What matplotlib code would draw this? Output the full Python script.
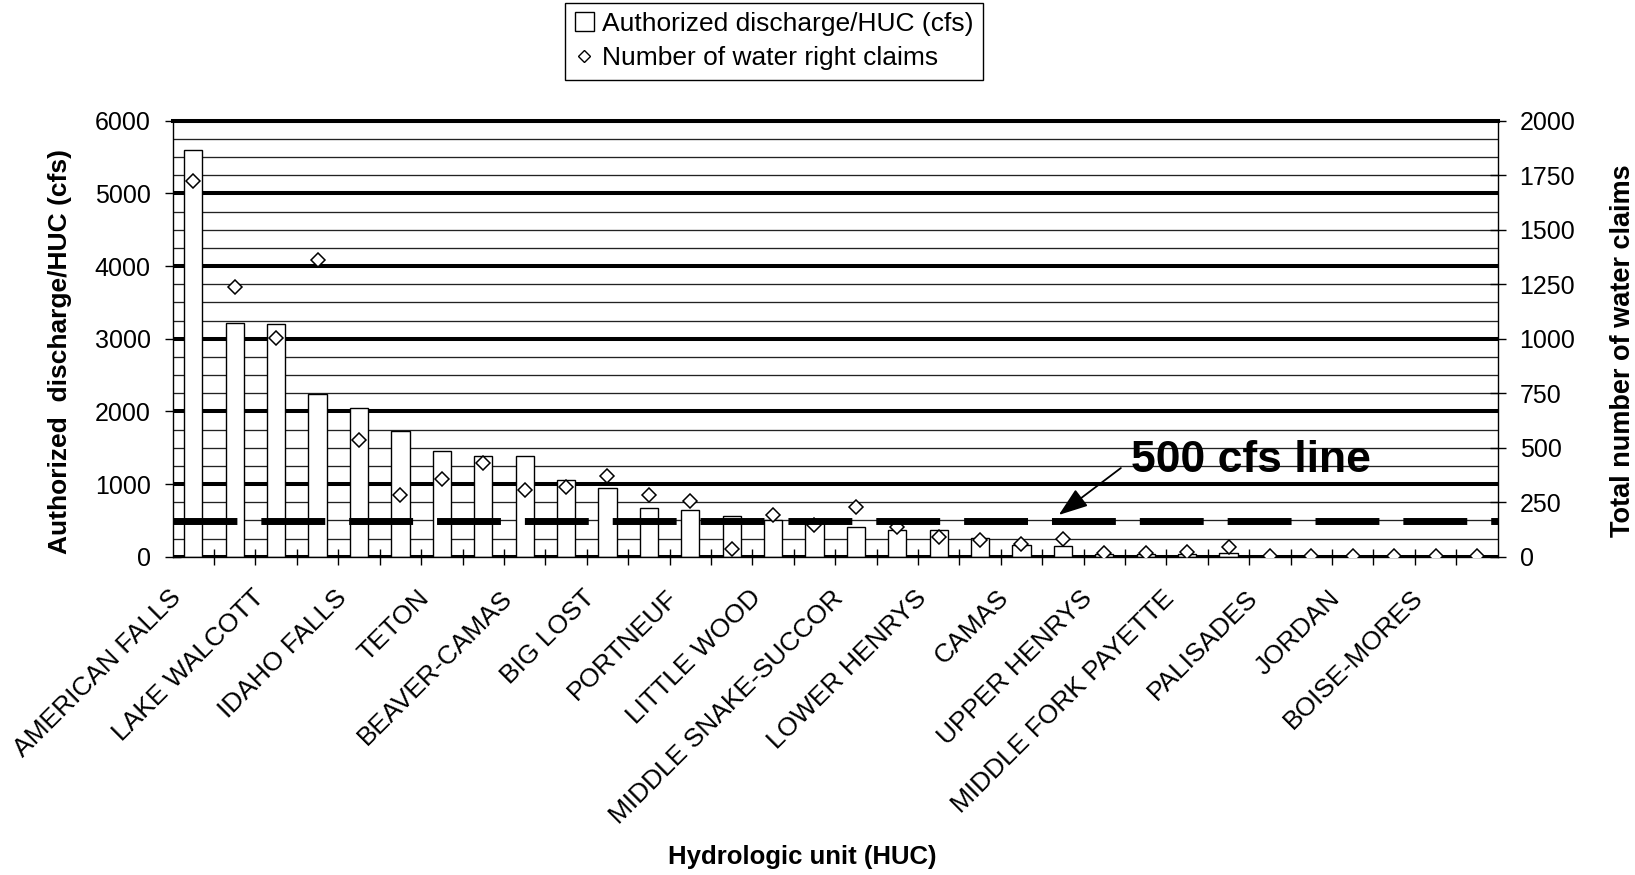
import numpy as np
import matplotlib
matplotlib.use("Agg")
import matplotlib.pyplot as plt
from matplotlib.patches import Patch
from matplotlib.lines import Line2D

plt.rcParams['font.family'] = ['Liberation Sans', 'DejaVu Sans']

# Hydrologic units (only every other one is labelled on the axis)
huc_labels = ['AMERICAN FALLS', '', 'LAKE WALCOTT', '', 'IDAHO FALLS', '', 'TETON', '',
              'BEAVER-CAMAS', '', 'BIG LOST', '', 'PORTNEUF', '', 'LITTLE WOOD', '',
              'MIDDLE SNAKE-SUCCOR', '', 'LOWER HENRYS', '', 'CAMAS', '', 'UPPER HENRYS', '',
              'MIDDLE FORK PAYETTE', '', 'PALISADES', '', 'JORDAN', '', 'BOISE-MORES', '']

# Authorized discharge per HUC (cfs), left axis
discharge_cfs = [5600, 3220, 3200, 2240, 2050, 1730, 1455, 1390, 1385, 1050,
                 940, 665, 638, 555, 510, 480, 408, 362, 362, 252,
                 165, 150, 40, 40, 40, 45, 12, 3, 2, 1, 1, 1]

# Number of water right claims, right axis
claims = [1723, 1238, 1005, 1361, 534, 283, 356, 428, 306, 321,
          370, 283, 257, 34, 193, 145, 228, 138, 92, 76,
          57, 80, 15, 18, 23, 46, 5, 3, 2, 2, 1, 1]

threshold_cfs = 485  # drawn "500 cfs line"

x = np.arange(len(huc_labels))
label_shift = 0.39  # rotated labels sit a bit left of the bar centres

fig = plt.figure(figsize=(16.35, 8.75), dpi=100)
ax = fig.add_axes([0.1056, 0.3638, 0.8104, 0.4982])
ax2 = ax.twinx()

# grid: thin every 250 cfs, thick every 1000 cfs
ax.set_axisbelow(True)
ax.set_ylim(0, 6000)
ax.set_yticks(np.arange(0, 6001, 1000))
ax.set_yticks(np.arange(0, 6001, 250), minor=True)
ax.grid(which='major', axis='y', color='black', linewidth=2.9)
ax.grid(which='minor', axis='y', color='#222222', linewidth=0.95)
ax.grid(False, axis='x', which='both')

ax.bar(x, discharge_cfs, width=0.44, color='white', edgecolor='black', linewidth=1.0, zorder=2)

ax.set_xlim(-0.5, len(huc_labels) - 0.5)
ax.set_xticks(x - label_shift)
ax.set_xticks(np.arange(0.5, len(huc_labels) - 1, 1), minor=True)
ax.set_xticklabels(huc_labels, rotation=45, ha='right', va='center', rotation_mode='anchor', fontsize=19)
ax.tick_params(axis='x', which='major', length=0, pad=27)
ax.tick_params(axis='x', which='minor', direction='inout', length=11.5, width=1)
ax.tick_params(axis='y', which='major', direction='inout', length=11.5, width=1, labelsize=18, pad=10)
ax.tick_params(axis='y', which='minor', length=0)

for s in ['left', 'right', 'bottom']:
    ax.spines[s].set_linewidth(1.0)
ax.spines['top'].set_linewidth(2.9)

# right axis: claims
ax2.set_ylim(0, 2000)
ax2.set_yticks(np.arange(0, 2001, 250))
ax2.tick_params(axis='y', direction='inout', length=11.5, width=1, labelsize=18, pad=10)
ax2.plot(x, claims, linestyle='none', marker='D', markersize=7.4, markerfacecolor='white',
         markeredgecolor='black', markeredgewidth=1.1, zorder=3)
for s in ax2.spines.values():
    s.set_visible(False)

# 500 cfs dashed line on top of everything
ax2.plot([-0.5, len(huc_labels) - 0.5], [threshold_cfs, threshold_cfs], transform=ax.transData,
         color='black', linewidth=5, dashes=(9.2, 3.45), solid_capstyle='butt', zorder=5)
ax2.text(25.55, 1320, '500 cfs line', transform=ax.transData, fontsize=32, fontweight='bold',
         ha='center', va='center', zorder=6)
ax2.annotate('', xy=(20.9, 574), xycoords=ax.transData,
             xytext=(22.4, 1220), textcoords=ax.transData,
             arrowprops=dict(arrowstyle='-|>,head_length=0.9,head_width=0.32', color='black',
                             linewidth=1.3, shrinkA=0, shrinkB=0, mutation_scale=20))

fig.text(0.0367, 0.598, 'Authorized  discharge/HUC (cfs)', rotation=90, ha='center', va='center',
         fontsize=19, fontweight='bold')
fig.text(0.9925, 0.5995, 'Total number of water claims', rotation=90, ha='center', va='center',
         fontsize=19.5, fontweight='bold')
fig.text(0.4905, 0.0206, 'Hydrologic unit (HUC)', ha='center', va='center',
         fontsize=18.5, fontweight='bold')

handles = [Patch(facecolor='white', edgecolor='black', linewidth=1.0),
           Line2D([], [], linestyle='none', marker='D', markersize=6.5, markerfacecolor='white',
                  markeredgecolor='black', markeredgewidth=1.0)]
leg = fig.legend(handles, ['Authorized discharge/HUC (cfs)', 'Number of water right claims'],
                 loc='upper center', bbox_to_anchor=(0.4735, 0.997), fontsize=19,
                 fancybox=False, edgecolor='black', framealpha=1, handlelength=0.75,
                 handleheight=0.75, handletextpad=0.3, borderpad=0.35, labelspacing=0.4,
                 borderaxespad=0)
leg.get_frame().set_linewidth(1.0)

fig.savefig('out.png', dpi=100)
